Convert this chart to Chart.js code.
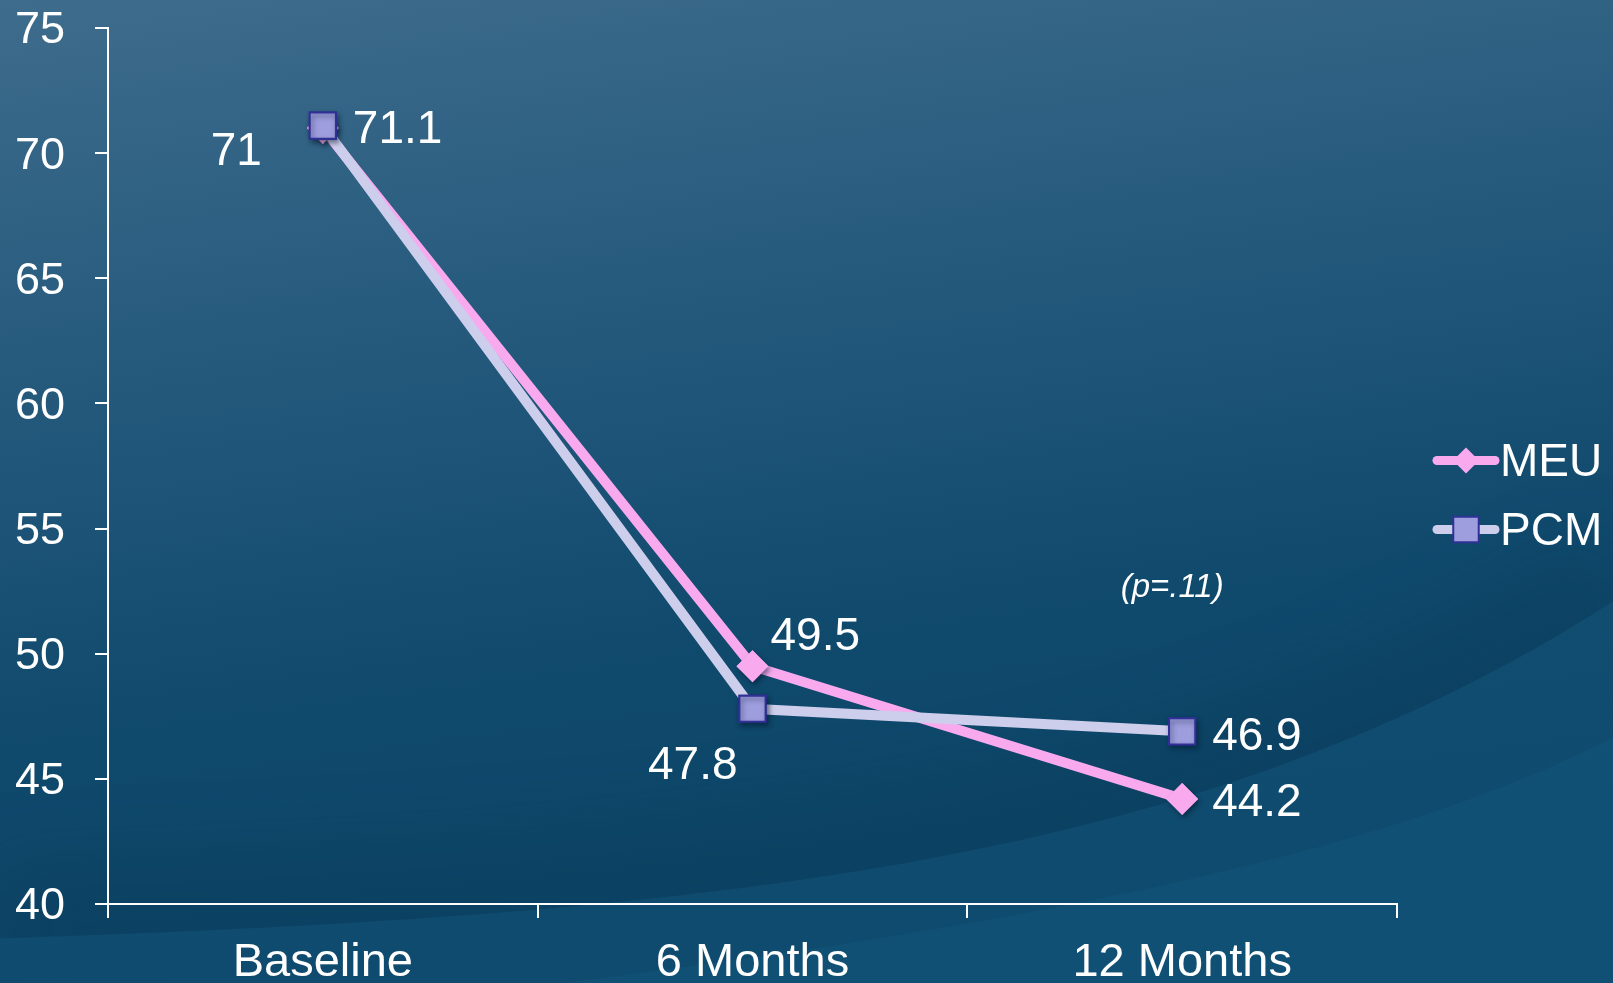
<!DOCTYPE html>
<html>
<head>
<meta charset="utf-8">
<title>MEU vs PCM</title>
<script src="https://cdn.jsdelivr.net/npm/chart.js@4/dist/chart.umd.min.js"></script>
<style>
  html, body { margin: 0; padding: 0; background: #1c5678; overflow: hidden; }
  canvas { display: block; }
</style>
</head>
<body>
<canvas id="scoreChart" width="1613" height="983"></canvas>
<script>
// Chart data
const timepoints = ['Baseline', '6 Months', '12 Months'];
const meuScores = [71, 49.5, 44.2];
const pcmScores = [71.1, 47.8, 46.9];
const yTicks = { min: 40, max: 75, step: 5 };
const pValueNote = '(p=.11)';

// where each value label sits relative to its point: [dx, dy, align]
const meuLabelPos = [[-61, 24, 'right'], [18, -29, 'left'], [30, 4, 'left']];
const pcmLabelPos = [[30, 5, 'left'], [-15, 58, 'right'], [30, 6, 'left']];

const FONT = '"Liberation Sans", Arial, sans-serif';

// Blue slide background with the soft swoosh in the lower right
const backgroundPlugin = {
    id: 'slideBackground',
    beforeDraw(chart) {
        const ctx = chart.ctx;
        const w = chart.width, h = chart.height;
        ctx.save();
        const g = ctx.createLinearGradient(0, 0, w * 0.08, h);
        g.addColorStop(0, '#3e6c8c');
        g.addColorStop(0.4, '#24597c');
        g.addColorStop(0.75, '#0f496c');
        g.addColorStop(1, '#0d4668');
        ctx.fillStyle = g;
        ctx.fillRect(0, 0, w, h);

        const swoosh1 = () => {
            ctx.beginPath();
            ctx.moveTo(-10, h * 0.955);
            ctx.bezierCurveTo(w * 0.45, h * 0.93, w * 0.75, h * 0.88, w + 10, h * 0.605);
        };

        // darker shade just above the swoosh edge
        ctx.save();
        swoosh1();
        ctx.lineTo(w + 10, -10);
        ctx.lineTo(-10, -10);
        ctx.closePath();
        ctx.clip();
        ctx.filter = 'blur(40px)';
        swoosh1();
        ctx.strokeStyle = 'rgba(3, 45, 75, 0.22)';
        ctx.lineWidth = 130;
        ctx.stroke();
        ctx.restore();

        // lighter bands below
        swoosh1();
        ctx.lineTo(w + 10, h + 10);
        ctx.lineTo(-10, h + 10);
        ctx.closePath();
        ctx.fillStyle = 'rgba(25, 100, 140, 0.18)';
        ctx.fill();

        ctx.beginPath();
        ctx.moveTo(w * 0.3, h + 10);
        ctx.bezierCurveTo(w * 0.6, h * 0.95, w * 0.85, h * 0.88, w + 10, h * 0.745);
        ctx.lineTo(w + 10, h + 10);
        ctx.closePath();
        ctx.fillStyle = 'rgba(35, 115, 160, 0.15)';
        ctx.fill();
        ctx.restore();
    }
};

// Markers get a soft drop shadow, as on the slide
const markerShadowPlugin = {
    id: 'markerShadow',
    afterDatasetDraw(chart, args) {
        const ctx = chart.ctx;
        ctx.save();
        ctx.shadowColor = 'rgba(0, 20, 40, 0.5)';
        ctx.shadowBlur = 5;
        ctx.shadowOffsetX = 2;
        ctx.shadowOffsetY = 3;
        args.meta.data.forEach(pt => pt.draw(ctx, chart.chartArea));
        ctx.restore();
    }
};

// Value labels next to each point
const valueLabelPlugin = {
    id: 'valueLabels',
    afterDatasetsDraw(chart) {
        const ctx = chart.ctx;
        ctx.save();
        ctx.font = '46px ' + FONT;
        ctx.fillStyle = '#ffffff';
        ctx.textBaseline = 'middle';
        chart.data.datasets.forEach((ds, i) => {
            const meta = chart.getDatasetMeta(i);
            meta.data.forEach((pt, j) => {
                const [dx, dy, align] = ds.labelPos[j];
                ctx.textAlign = align;
                ctx.fillText(String(ds.data[j]), pt.x + dx, pt.y + dy);
            });
        });

        // significance note near the last timepoint
        const x = chart.scales.x.getPixelForValue(2) - 10;
        const y = chart.scales.y.getPixelForValue(52.7) + 2;
        ctx.font = 'italic 33px ' + FONT;
        ctx.textAlign = 'center';
        ctx.fillText(pValueNote, x, y);
        ctx.restore();
    }
};

// Legend on the right: short line with the series marker on it
const sideLegendPlugin = {
    id: 'sideLegend',
    afterDraw(chart) {
        const ctx = chart.ctx;
        const left = chart.chartArea.right + 40;
        const lineLen = 58;
        const midY = chart.height / 2 + 4;
        const rows = [midY - 35, midY + 34];
        ctx.save();
        chart.data.datasets.forEach((ds, i) => {
            const y = rows[i];
            ctx.strokeStyle = ds.borderColor;
            ctx.lineWidth = 9;
            ctx.lineCap = 'round';
            ctx.beginPath();
            ctx.moveTo(left, y);
            ctx.lineTo(left + lineLen, y);
            ctx.stroke();

            ctx.fillStyle = ds.pointBackgroundColor;
            ctx.strokeStyle = ds.pointBorderColor;
            ctx.lineWidth = ds.pointBorderWidth;
            Chart.helpers.drawPoint(ctx, {
                pointStyle: ds.pointStyle,
                rotation: 0,
                radius: ds.legendRadius,
                borderWidth: ds.pointBorderWidth
            }, left + lineLen / 2, y);

            ctx.fillStyle = '#ffffff';
            ctx.font = '46px ' + FONT;
            ctx.textAlign = 'left';
            ctx.textBaseline = 'middle';
            ctx.fillText(ds.label, left + lineLen + 5, y + 3);
        });
        ctx.restore();
    }
};

const ctx = document.getElementById('scoreChart').getContext('2d');
new Chart(ctx, {
    type: 'line',
    data: {
        labels: timepoints,
        datasets: [{
            label: 'MEU',
            data: meuScores,
            labelPos: meuLabelPos,
            borderColor: '#f9aaef',
            borderWidth: 10,
            pointStyle: 'rectRot',
            pointRadius: 16,
            pointHoverRadius: 16,
            pointBackgroundColor: '#f9aaef',
            pointBorderColor: '#f9aaef',
            pointBorderWidth: 0,
            legendRadius: 13,
            tension: 0,
            order: 1
        }, {
            label: 'PCM',
            data: pcmScores,
            labelPos: pcmLabelPos,
            borderColor: '#cdcdec',
            borderWidth: 10,
            pointStyle: 'rect',
            pointRadius: 18.5,
            pointHoverRadius: 18.5,
            pointBackgroundColor: '#9e9ede',
            pointBorderColor: '#303096',
            pointBorderWidth: 2,
            legendRadius: 18,
            tension: 0,
            order: 0
        }]
    },
    options: {
        responsive: false,
        devicePixelRatio: 1,
        animation: false,
        layout: {
            autoPadding: false,
            padding: { left: 15, top: 0, right: 216, bottom: 0 }
        },
        scales: {
            x: {
                offset: true,
                grid: {
                    offset: true,
                    drawOnChartArea: false,
                    drawTicks: true,
                    tickLength: 14,
                    color: '#ffffff',
                    lineWidth: 2
                },
                border: { color: '#ffffff', width: 2 },
                ticks: {
                    color: '#ffffff',
                    font: { family: FONT, size: 47 },
                    padding: 17,
                    maxRotation: 0
                },
                afterFit(scale) { scale.height = 79; }
            },
            y: {
                min: yTicks.min,
                max: yTicks.max,
                grid: {
                    drawOnChartArea: false,
                    drawTicks: true,
                    tickLength: 13,
                    color: '#ffffff',
                    lineWidth: 2
                },
                border: { color: '#ffffff', width: 2 },
                ticks: {
                    stepSize: yTicks.step,
                    color: '#ffffff',
                    font: { family: FONT, size: 45 },
                    padding: 30,
                    labelOffset: 3
                },
                afterFit(scale) {
                    scale.width = 93;
                    scale.paddingTop = 28;
                    scale.paddingBottom = 0;
                }
            }
        },
        plugins: {
            legend: { display: false },
            tooltip: { enabled: false }
        }
    },
    plugins: [backgroundPlugin, markerShadowPlugin, valueLabelPlugin, sideLegendPlugin]
});
</script>
</body>
</html>
